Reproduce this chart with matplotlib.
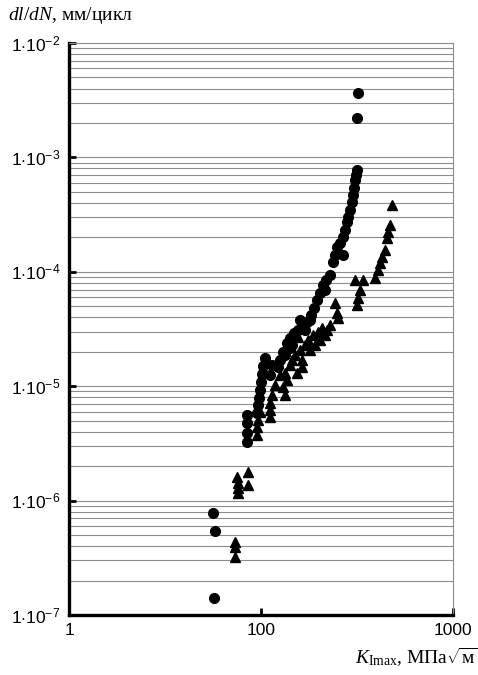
import matplotlib
matplotlib.use("Agg")
import matplotlib.pyplot as plt
from matplotlib.ticker import FixedLocator, NullFormatter, LogLocator

plt.rcParams["mathtext.fontset"] = "custom"
plt.rcParams["mathtext.rm"] = "Liberation Serif"
plt.rcParams["mathtext.it"] = "Liberation Serif:italic"
plt.rcParams["mathtext.sf"] = "Liberation Sans"

# circles: K_Imax (MPa*sqrt(m)) and dl/dN (mm/cycle)
circle_k = [56.9, 57.6, 56.2, 84.6, 84.6, 84.6, 84.6, 95.3, 96.5, 97.6,
            98.8, 100.0, 101.2, 102.4, 104.9, 122.6, 125.6, 130.2, 133.4, 136.6,
            141.6, 141.6, 148.6, 155.9, 159.7, 165.5, 173.6, 182.1, 188.8, 195.7,
            202.9, 210.3, 218.0, 228.8, 237.1, 242.9, 248.8, 267.3, 257.9, 267.3,
            273.8, 280.4, 283.8, 290.7, 297.8, 301.4, 305.0, 308.7, 312.4, 316.2,
            320.0, 316.2, 145.0, 169.5, 179.9, 215.4, 111.4, 114.1]
circle_rate = [1.41e-7, 5.42e-7, 7.79e-7, 5.60e-6, 4.77e-6, 3.90e-6, 3.25e-6, 5.83e-6, 6.85e-6, 7.88e-6,
               9.26e-6, 1.09e-5, 1.28e-5, 1.50e-5, 1.76e-5, 1.47e-5, 1.69e-5, 1.99e-5, 1.87e-5, 2.39e-5,
               2.64e-5, 2.16e-5, 2.92e-5, 3.10e-5, 3.79e-5, 3.36e-5, 3.64e-5, 4.19e-5, 4.83e-5, 5.67e-5,
               6.53e-5, 7.67e-5, 8.48e-5, 9.38e-5, 1.22e-4, 1.40e-4, 1.65e-4, 1.40e-4, 1.79e-4, 2.01e-4,
               2.32e-4, 2.72e-4, 3.01e-4, 3.47e-4, 4.07e-4, 4.69e-4, 5.40e-4, 6.34e-4, 7.02e-4, 7.76e-4,
               3.66e-3, 2.21e-3, 2.29e-5, 3.10e-5, 3.79e-5, 6.93e-5, 1.25e-5, 1.53e-5]

# triangles
tri_k = [73.2, 73.2, 73.2, 75.0, 75.9, 75.9, 75.9, 85.6, 85.6, 95.3,
         95.3, 96.5, 98.8, 111.4, 111.4, 111.4, 114.1, 130.2, 133.4, 133.4,
         136.6, 155.9, 159.7, 163.6, 163.6, 154.0, 175.7, 186.6, 198.1, 207.8,
         220.7, 228.8, 242.9, 248.8, 251.8, 145.0, 169.5, 202.9, 308.7, 316.2,
         320.0, 327.9, 339.9, 392.5, 406.9, 416.7, 426.8, 442.4, 453.2, 458.7,
         469.8, 481.3, 118.3, 125.6, 141.6, 150.4, 179.9, 191.1, 215.4]
tri_rate = [4.35e-7, 3.93e-7, 3.21e-7, 1.61e-6, 1.42e-6, 1.29e-6, 1.16e-6, 1.78e-6, 1.37e-6, 3.75e-6,
            4.40e-6, 5.06e-6, 5.95e-6, 5.38e-6, 6.19e-6, 7.13e-6, 8.37e-6, 9.84e-6, 8.37e-6, 1.30e-5,
            1.13e-5, 2.69e-5, 2.07e-5, 1.69e-5, 1.47e-5, 1.30e-5, 2.53e-5, 2.80e-5, 2.98e-5, 3.23e-5,
            3.10e-5, 3.43e-5, 5.34e-5, 4.36e-5, 3.95e-5, 1.69e-5, 2.29e-5, 2.53e-5, 8.48e-5, 5.13e-5,
            5.90e-5, 6.93e-5, 8.48e-5, 8.83e-5, 1.04e-4, 1.19e-4, 1.35e-4, 1.55e-4, 1.97e-4, 2.23e-4,
            2.56e-4, 3.84e-4, 1.02e-5, 1.25e-5, 1.53e-5, 1.87e-5, 2.07e-5, 2.29e-5, 2.80e-5]

x_ticks = [10, 100, 1000]
x_labels = ["1", "100", "1000"]
y_ticks = [1e-7, 1e-6, 1e-5, 1e-4, 1e-3, 1e-2]
y_labels = [r"$\mathsf{1{\cdot}10^{-%d}}$" % p for p in [7, 6, 5, 4, 3, 2]]

fig = plt.figure(figsize=(4.78, 6.75), dpi=100)
ax = fig.add_axes([69 / 478, 1 - 615 / 675, 384 / 478, 572 / 675])

ax.set_xscale("log")
ax.set_yscale("log")
ax.set_xlim(10, 1000)
ax.set_ylim(1e-7, 1e-2)

ax.yaxis.set_minor_locator(LogLocator(base=10, subs=range(2, 10)))
ax.yaxis.set_minor_formatter(NullFormatter())
ax.xaxis.set_minor_locator(FixedLocator([]))
ax.grid(True, which="both", axis="y", color="#8c8c8c", linewidth=0.8)
ax.set_axisbelow(True)

ax.plot(circle_k, circle_rate, "o", color="black", markersize=7, linestyle="none")
ax.plot(tri_k, tri_rate, "^", color="black", markersize=7.8, linestyle="none")

ax.set_xticks(x_ticks)
ax.set_xticklabels(x_labels, fontfamily="Liberation Sans", fontsize=12.5)
ax.set_yticks(y_ticks)
ax.set_yticklabels(y_labels, fontsize=12.5)
ax.tick_params(axis="both", which="major", direction="in", length=5, width=2, pad=6)
ax.tick_params(axis="y", which="minor", length=0)

for side in ["left", "bottom"]:
    ax.spines[side].set_linewidth(2.4)
    ax.spines[side].set_color("black")
for side in ["right", "top"]:
    ax.spines[side].set_linewidth(0.8)
    ax.spines[side].set_color("#8c8c8c")

fig.text(8 / 478, 1 - 16 / 675, r"$dl/dN$, мм/цикл", fontfamily="Liberation Serif",
         fontsize=14, ha="left", va="center")
fig.text(1.0, 1 - 657 / 675, r"$K_{\mathrm{Imax}}$, МПа$\sqrt{\mathrm{м}}$",
         fontfamily="Liberation Serif", fontsize=14, ha="right", va="center")

fig.savefig("out.png", dpi=100)
plt.close(fig)
